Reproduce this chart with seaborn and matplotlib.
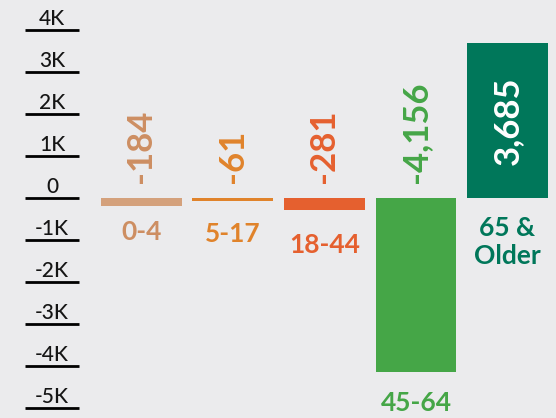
import matplotlib
matplotlib.use("Agg")
import matplotlib.pyplot as plt
import matplotlib.transforms as mtransforms
import seaborn as sns
import pandas as pd

# ---- data ----
categories = ["0-4", "5-17", "18-44", "45-64", "65 &\nOlder"]
values = [-184, -61, -281, -4156, 3685]
value_labels = ["-184", "-61", "-281", "-4,156", "3,685"]
bar_colors = ["#D4A17C", "#E0832B", "#E5602F", "#45A647", "#00775A"]
text_colors = ["#CD8E62", "#E0832B", "#E5602F", "#45A647", "#00775A"]
ytick_values = [4000, 3000, 2000, 1000, 0, -1000, -2000, -3000, -4000, -5000]
ytick_labels = ["4K", "3K", "2K", "1K", "0", "-1K", "-2K", "-3K", "-4K", "-5K"]

BG = "#EBEBED"
sns.set_theme(style="white")
plt.rcParams["font.family"] = ["Lato", "DejaVu Sans"]

fig = plt.figure(figsize=(5.56, 4.18), dpi=100, facecolor=BG)
ax = fig.add_axes([0, 0, 1, 1])
ax.set_facecolor(BG)

df = pd.DataFrame({"cat": categories, "val": values})
sns.barplot(data=df, x="cat", y="val", hue="cat", palette=bar_colors,
            width=0.885, legend=False, ax=ax, saturation=1, linewidth=0)

ax.set_xlim(-1.546, 4.53)
ax.set_ylim(-5240, 4714)
ax.axis("off")

blend = mtransforms.blended_transform_factory(ax.transAxes, ax.transData)

# y-axis tick labels with underlines
for v, lab in zip(ytick_values, ytick_labels):
    ax.plot([25 / 556, 79 / 556], [v, v], transform=blend, color="black",
            lw=2.0, solid_capstyle="butt")
    ax.annotate(lab, xy=(52 / 556, v), xycoords=blend, xytext=(0, 3.5),
                textcoords="offset points", ha="center", va="baseline",
                fontsize=15, fontweight="medium", color="#151515")

# value labels
for i, (v, lab) in enumerate(zip(values, value_labels)):
    if v >= 0:
        ax.text(i, v / 2, lab, rotation=90, ha="center", va="center",
                fontsize=25, fontweight="bold", color="white")
    else:
        ax.annotate(lab, xy=(i, 0), xytext=(0, 10.5), textcoords="offset points",
                    rotation=90, ha="center", va="bottom", fontsize=25,
                    fontweight="bold", color=text_colors[i])

# category labels below bars (pixel gaps below bar bottom)
gaps_px = [14, 21, 23, 19, 18]
for i, (v, cat) in enumerate(zip(values, categories)):
    base = min(v, 0)
    ax.annotate(cat, xy=(i, base), xytext=(0, -gaps_px[i] * 0.72),
                textcoords="offset points", ha="center", va="top",
                fontsize=19, fontweight="bold", color=text_colors[i],
                linespacing=1.2, multialignment="center")

fig.savefig("out.png", dpi=100, facecolor=BG)
